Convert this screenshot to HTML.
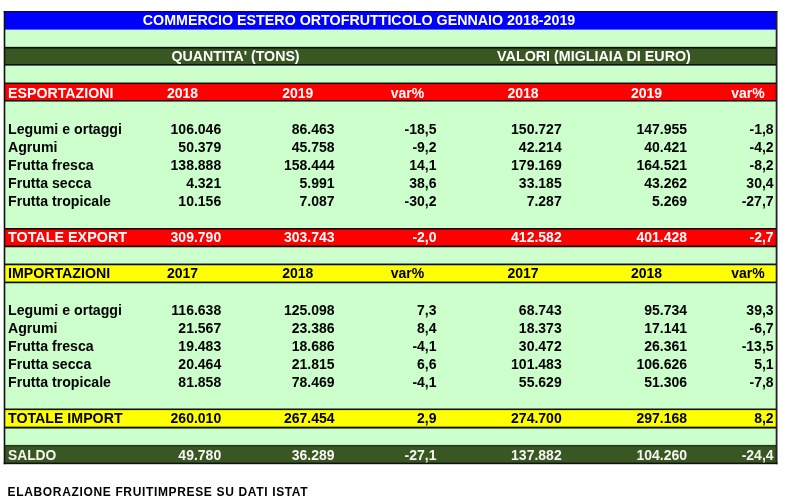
<!DOCTYPE html>
<html lang="it"><head><meta charset="utf-8"><title>Commercio estero ortofrutticolo gennaio 2018-2019</title>
<style>html,body{margin:0;padding:0;background:#fff;width:800px;height:500px;overflow:hidden}svg{display:block;filter:blur(0.35px)}svg text{font-family:"Liberation Sans",Arial,sans-serif;font-weight:bold}</style></head>
<body>
<svg width="800" height="500" viewBox="0 0 800 500">
<rect x="4.2" y="11.50" width="772.10" height="452.50" fill="#ccffcc"/>
<rect x="4.2" y="11.50" width="772.10" height="18.10" fill="#0000ff"/>
<rect x="4.2" y="47.70" width="772.10" height="17.10" fill="#385723"/>
<rect x="4.2" y="83.30" width="772.10" height="17.50" fill="#ff0000"/>
<rect x="4.2" y="228.80" width="772.10" height="17.60" fill="#ff0000"/>
<rect x="4.2" y="264.40" width="772.10" height="18.00" fill="#ffff00"/>
<rect x="4.2" y="409.30" width="772.10" height="18.30" fill="#ffff00"/>
<rect x="4.2" y="445.00" width="772.10" height="18.40" fill="#385723"/>
<rect x="4.2" y="46.85" width="772.10" height="1.7" fill="#0a0f08"/>
<rect x="4.2" y="64.00" width="772.10" height="1.6" fill="#0a0f08"/>
<rect x="4.2" y="82.55" width="772.10" height="1.5" fill="#0a0f08"/>
<rect x="4.2" y="100.05" width="772.10" height="1.5" fill="#0a0f08"/>
<rect x="4.2" y="228.00" width="772.10" height="1.6" fill="#0a0f08"/>
<rect x="4.2" y="245.55" width="772.10" height="1.7" fill="#0a0f08"/>
<rect x="4.2" y="263.55" width="772.10" height="1.7" fill="#0a0f08"/>
<rect x="4.2" y="281.55" width="772.10" height="1.7" fill="#0a0f08"/>
<rect x="4.2" y="408.50" width="772.10" height="1.6" fill="#0a0f08"/>
<rect x="4.2" y="426.65" width="772.10" height="1.9" fill="#0a0f08"/>
<rect x="4.2" y="444.9" width="772.10" height="1.7" fill="#263d1b"/>
<rect x="3.7" y="11" width="1.6" height="453.2" fill="#111"/>
<rect x="775.7" y="11" width="1.8" height="453.2" fill="#222"/>
<rect x="3.7" y="11" width="773.8" height="1.1" fill="#111"/>
<rect x="3.7" y="462.6" width="773.8" height="1.6" fill="#111"/>
<text x="359.05" y="25" text-anchor="middle" fill="#fff" font-size="14.27">COMMERCIO ESTERO ORTOFRUTTICOLO GENNAIO 2018-2019</text>
<text x="235.5" y="61" text-anchor="middle" fill="#fff" font-size="14.2">QUANTITA' (TONS)</text>
<text x="594" y="61" text-anchor="middle" fill="#fff" font-size="14.3">VALORI (MIGLIAIA DI EURO)</text>
<text x="8" y="98" text-anchor="start" fill="#fff" font-size="14.2">ESPORTAZIONI</text>
<text x="182.5" y="98" text-anchor="middle" fill="#fff" font-size="14">2018</text>
<text x="297.75" y="98" text-anchor="middle" fill="#fff" font-size="14">2019</text>
<text x="407.5" y="98" text-anchor="middle" fill="#fff" font-size="14">var%</text>
<text x="523" y="98" text-anchor="middle" fill="#fff" font-size="14">2018</text>
<text x="646.5" y="98" text-anchor="middle" fill="#fff" font-size="14">2019</text>
<text x="748" y="98" text-anchor="middle" fill="#fff" font-size="14">var%</text>
<text x="8" y="134" text-anchor="start" fill="#000" font-size="14.15">Legumi e ortaggi</text>
<text x="221.2" y="134" text-anchor="end" fill="#000" font-size="14">106.046</text>
<text x="334.5" y="134" text-anchor="end" fill="#000" font-size="14">86.463</text>
<text x="436.5" y="134" text-anchor="end" fill="#000" font-size="14">-18,5</text>
<text x="561.7" y="134" text-anchor="end" fill="#000" font-size="14">150.727</text>
<text x="687" y="134" text-anchor="end" fill="#000" font-size="14">147.955</text>
<text x="773.6" y="134" text-anchor="end" fill="#000" font-size="14">-1,8</text>
<text x="8" y="152" text-anchor="start" fill="#000" font-size="14.15">Agrumi</text>
<text x="221.2" y="152" text-anchor="end" fill="#000" font-size="14">50.379</text>
<text x="334.5" y="152" text-anchor="end" fill="#000" font-size="14">45.758</text>
<text x="436.5" y="152" text-anchor="end" fill="#000" font-size="14">-9,2</text>
<text x="561.7" y="152" text-anchor="end" fill="#000" font-size="14">42.214</text>
<text x="687" y="152" text-anchor="end" fill="#000" font-size="14">40.421</text>
<text x="773.6" y="152" text-anchor="end" fill="#000" font-size="14">-4,2</text>
<text x="8" y="170" text-anchor="start" fill="#000" font-size="14.15">Frutta fresca</text>
<text x="221.2" y="170" text-anchor="end" fill="#000" font-size="14">138.888</text>
<text x="334.5" y="170" text-anchor="end" fill="#000" font-size="14">158.444</text>
<text x="436.5" y="170" text-anchor="end" fill="#000" font-size="14">14,1</text>
<text x="561.7" y="170" text-anchor="end" fill="#000" font-size="14">179.169</text>
<text x="687" y="170" text-anchor="end" fill="#000" font-size="14">164.521</text>
<text x="773.6" y="170" text-anchor="end" fill="#000" font-size="14">-8,2</text>
<text x="8" y="188" text-anchor="start" fill="#000" font-size="14.15">Frutta secca</text>
<text x="221.2" y="188" text-anchor="end" fill="#000" font-size="14">4.321</text>
<text x="334.5" y="188" text-anchor="end" fill="#000" font-size="14">5.991</text>
<text x="436.5" y="188" text-anchor="end" fill="#000" font-size="14">38,6</text>
<text x="561.7" y="188" text-anchor="end" fill="#000" font-size="14">33.185</text>
<text x="687" y="188" text-anchor="end" fill="#000" font-size="14">43.262</text>
<text x="773.6" y="188" text-anchor="end" fill="#000" font-size="14">30,4</text>
<text x="8" y="206" text-anchor="start" fill="#000" font-size="14.15">Frutta tropicale</text>
<text x="221.2" y="206" text-anchor="end" fill="#000" font-size="14">10.156</text>
<text x="334.5" y="206" text-anchor="end" fill="#000" font-size="14">7.087</text>
<text x="436.5" y="206" text-anchor="end" fill="#000" font-size="14">-30,2</text>
<text x="561.7" y="206" text-anchor="end" fill="#000" font-size="14">7.287</text>
<text x="687" y="206" text-anchor="end" fill="#000" font-size="14">5.269</text>
<text x="773.6" y="206" text-anchor="end" fill="#000" font-size="14">-27,7</text>
<text x="8" y="242" text-anchor="start" fill="#fff" font-size="14.35">TOTALE EXPORT</text>
<text x="221.2" y="242" text-anchor="end" fill="#fff" font-size="14">309.790</text>
<text x="334.5" y="242" text-anchor="end" fill="#fff" font-size="14">303.743</text>
<text x="436.5" y="242" text-anchor="end" fill="#fff" font-size="14">-2,0</text>
<text x="561.7" y="242" text-anchor="end" fill="#fff" font-size="14">412.582</text>
<text x="687" y="242" text-anchor="end" fill="#fff" font-size="14">401.428</text>
<text x="773.6" y="242" text-anchor="end" fill="#fff" font-size="14">-2,7</text>
<text x="8" y="278" text-anchor="start" fill="#000" font-size="14.2">IMPORTAZIONI</text>
<text x="182.5" y="278" text-anchor="middle" fill="#000" font-size="14">2017</text>
<text x="297.75" y="278" text-anchor="middle" fill="#000" font-size="14">2018</text>
<text x="407.5" y="278" text-anchor="middle" fill="#000" font-size="14">var%</text>
<text x="523" y="278" text-anchor="middle" fill="#000" font-size="14">2017</text>
<text x="646.5" y="278" text-anchor="middle" fill="#000" font-size="14">2018</text>
<text x="748" y="278" text-anchor="middle" fill="#000" font-size="14">var%</text>
<text x="8" y="315" text-anchor="start" fill="#000" font-size="14.15">Legumi e ortaggi</text>
<text x="221.2" y="315" text-anchor="end" fill="#000" font-size="14">116.638</text>
<text x="334.5" y="315" text-anchor="end" fill="#000" font-size="14">125.098</text>
<text x="436.5" y="315" text-anchor="end" fill="#000" font-size="14">7,3</text>
<text x="561.7" y="315" text-anchor="end" fill="#000" font-size="14">68.743</text>
<text x="687" y="315" text-anchor="end" fill="#000" font-size="14">95.734</text>
<text x="773.6" y="315" text-anchor="end" fill="#000" font-size="14">39,3</text>
<text x="8" y="333" text-anchor="start" fill="#000" font-size="14.15">Agrumi</text>
<text x="221.2" y="333" text-anchor="end" fill="#000" font-size="14">21.567</text>
<text x="334.5" y="333" text-anchor="end" fill="#000" font-size="14">23.386</text>
<text x="436.5" y="333" text-anchor="end" fill="#000" font-size="14">8,4</text>
<text x="561.7" y="333" text-anchor="end" fill="#000" font-size="14">18.373</text>
<text x="687" y="333" text-anchor="end" fill="#000" font-size="14">17.141</text>
<text x="773.6" y="333" text-anchor="end" fill="#000" font-size="14">-6,7</text>
<text x="8" y="351" text-anchor="start" fill="#000" font-size="14.15">Frutta fresca</text>
<text x="221.2" y="351" text-anchor="end" fill="#000" font-size="14">19.483</text>
<text x="334.5" y="351" text-anchor="end" fill="#000" font-size="14">18.686</text>
<text x="436.5" y="351" text-anchor="end" fill="#000" font-size="14">-4,1</text>
<text x="561.7" y="351" text-anchor="end" fill="#000" font-size="14">30.472</text>
<text x="687" y="351" text-anchor="end" fill="#000" font-size="14">26.361</text>
<text x="773.6" y="351" text-anchor="end" fill="#000" font-size="14">-13,5</text>
<text x="8" y="369" text-anchor="start" fill="#000" font-size="14.15">Frutta secca</text>
<text x="221.2" y="369" text-anchor="end" fill="#000" font-size="14">20.464</text>
<text x="334.5" y="369" text-anchor="end" fill="#000" font-size="14">21.815</text>
<text x="436.5" y="369" text-anchor="end" fill="#000" font-size="14">6,6</text>
<text x="561.7" y="369" text-anchor="end" fill="#000" font-size="14">101.483</text>
<text x="687" y="369" text-anchor="end" fill="#000" font-size="14">106.626</text>
<text x="773.6" y="369" text-anchor="end" fill="#000" font-size="14">5,1</text>
<text x="8" y="387" text-anchor="start" fill="#000" font-size="14.15">Frutta tropicale</text>
<text x="221.2" y="387" text-anchor="end" fill="#000" font-size="14">81.858</text>
<text x="334.5" y="387" text-anchor="end" fill="#000" font-size="14">78.469</text>
<text x="436.5" y="387" text-anchor="end" fill="#000" font-size="14">-4,1</text>
<text x="561.7" y="387" text-anchor="end" fill="#000" font-size="14">55.629</text>
<text x="687" y="387" text-anchor="end" fill="#000" font-size="14">51.306</text>
<text x="773.6" y="387" text-anchor="end" fill="#000" font-size="14">-7,8</text>
<text x="8" y="423" text-anchor="start" fill="#000" font-size="14.2">TOTALE IMPORT</text>
<text x="221.2" y="423" text-anchor="end" fill="#000" font-size="14">260.010</text>
<text x="334.5" y="423" text-anchor="end" fill="#000" font-size="14">267.454</text>
<text x="436.5" y="423" text-anchor="end" fill="#000" font-size="14">2,9</text>
<text x="561.7" y="423" text-anchor="end" fill="#000" font-size="14">274.700</text>
<text x="687" y="423" text-anchor="end" fill="#000" font-size="14">297.168</text>
<text x="773.6" y="423" text-anchor="end" fill="#000" font-size="14">8,2</text>
<text x="8" y="460" text-anchor="start" fill="#f6f6f0" font-size="13.8">SALDO</text>
<text x="221.2" y="460" text-anchor="end" fill="#f6f6f0" font-size="14">49.780</text>
<text x="334.5" y="460" text-anchor="end" fill="#f6f6f0" font-size="14">36.289</text>
<text x="436.5" y="460" text-anchor="end" fill="#f6f6f0" font-size="14">-27,1</text>
<text x="561.7" y="460" text-anchor="end" fill="#f6f6f0" font-size="14">137.882</text>
<text x="687" y="460" text-anchor="end" fill="#f6f6f0" font-size="14">104.260</text>
<text x="773.6" y="460" text-anchor="end" fill="#f6f6f0" font-size="14">-24,4</text>
<text x="7.6" y="495.6" fill="#000" font-size="12" letter-spacing="0.65">ELABORAZIONE FRUITIMPRESE SU DATI ISTAT</text>
</svg>
</body></html>
